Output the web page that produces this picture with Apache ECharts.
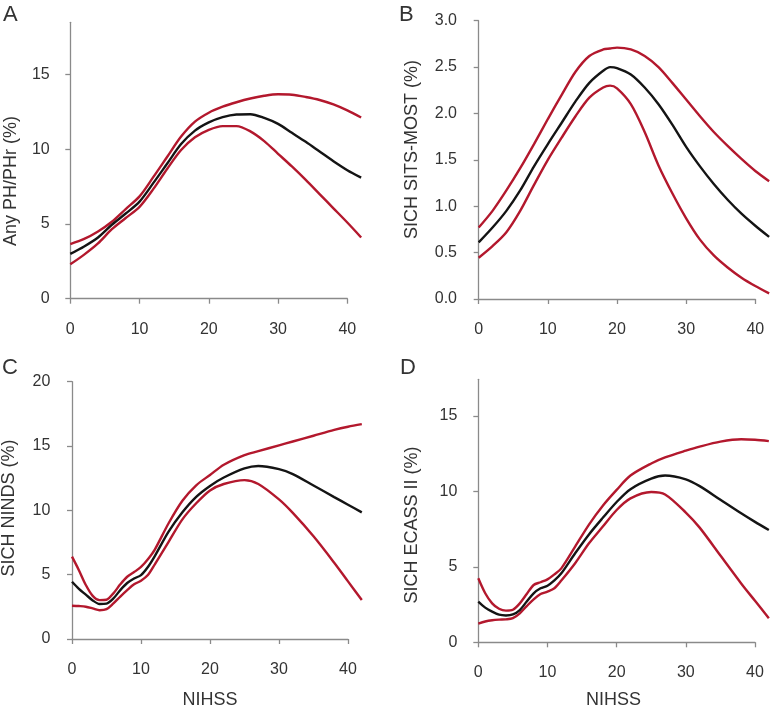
<!DOCTYPE html>
<html>
<head>
<meta charset="utf-8">
<script src="https://cdn.jsdelivr.net/npm/echarts@6.0.0/dist/echarts.min.js"></script>
<style>
html,body{margin:0;padding:0;background:#fff;}
#chart{width:772px;height:710px;}
</style>
</head>
<body>
<div id="chart"></div>
<script>
// ---------- Data ----------
const panelLetters = ['A', 'B', 'C', 'D'];
const yTitles = ['Any PH/PHr (%)', 'SICH SITS-MOST (%)', 'SICH NINDS (%)', 'SICH ECASS II (%)'];
const xTitle = 'NIHSS';
const xTicks = [0, 10, 20, 30, 40];

// Panel A: Any PH/PHr
const nihssA = [0,2,4,6,8,10,12,14,16,18,20,22,24,26,28,30,32,34,36,38,40,42];
const anyPH      = [3.0,3.5,4.1,4.95,5.7,6.5,7.75,9.05,10.35,11.25,11.8,12.15,12.33,12.35,12.1,11.7,11.1,10.5,9.85,9.2,8.6,8.1];
const anyPHUpper = [3.66,4.0,4.5,5.15,6.0,6.85,8.15,9.5,10.85,11.85,12.45,12.85,13.15,13.4,13.58,13.68,13.65,13.5,13.3,13.0,12.6,12.13];
const anyPHLower = [2.3,2.95,3.7,4.65,5.4,6.15,7.35,8.7,9.95,10.8,11.3,11.55,11.55,11.2,10.55,9.7,8.85,7.95,7.0,6.05,5.1,4.1];
const yTicksA = [0, 5, 10, 15];

// Panel B: SICH SITS-MOST
const nihssB = [0,2,4,6,8,10,12,14,16,18,19,20,22,24,26,28,30,32,34,36,38,40,42];
const sitsMost      = [0.61,0.77,0.95,1.17,1.43,1.67,1.9,2.13,2.33,2.46,2.5,2.49,2.42,2.28,2.1,1.88,1.64,1.43,1.24,1.07,0.92,0.79,0.67];
const sitsMostUpper = [0.77,0.95,1.17,1.41,1.67,1.94,2.2,2.45,2.62,2.69,2.7,2.71,2.69,2.62,2.5,2.33,2.15,1.97,1.8,1.65,1.51,1.38,1.27];
const sitsMostLower = [0.445,0.57,0.72,0.95,1.23,1.5,1.74,1.97,2.17,2.28,2.3,2.27,2.1,1.8,1.44,1.14,0.87,0.64,0.47,0.34,0.23,0.14,0.06];
const yTicksB = [0, 0.5, 1.0, 1.5, 2.0, 2.5, 3.0];

// Panel C: SICH NINDS
const nihssC = [0,1,2,3,4,5,6,7,8,9,10,11,12,14,16,18,20,22,25,27,30,32,35,38,40,42];
const ninds      = [4.45,3.9,3.45,3.0,2.72,2.75,3.15,3.8,4.35,4.7,4.97,5.6,6.45,8.35,9.85,11.05,11.9,12.55,13.26,13.45,13.2,12.82,11.93,11.03,10.44,9.84];
const nindsUpper = [6.4,5.35,4.2,3.35,3.02,3.05,3.55,4.25,4.84,5.2,5.6,6.2,6.95,9.0,10.75,11.95,12.75,13.55,14.3,14.6,15.05,15.35,15.8,16.25,16.5,16.7];
const nindsLower = [2.59,2.56,2.51,2.38,2.24,2.32,2.77,3.3,3.8,4.25,4.53,4.97,5.8,7.55,9.3,10.55,11.55,12.05,12.35,12.05,10.85,9.8,7.98,5.93,4.48,3.03];
const yTicksC = [0, 5, 10, 15, 20];

// Panel D: SICH ECASS II
const nihssD = [0,1,2,3,4,5,6,7,8,9,10,11,12,14,16,18,20,22,25,27,30,32,35,38,40,42];
const ecass      = [2.7,2.3,2.03,1.83,1.78,1.85,2.14,2.7,3.25,3.58,3.75,4.1,4.57,5.9,7.15,8.25,9.3,10.15,10.85,11.05,10.8,10.35,9.45,8.55,7.98,7.44];
const ecassUpper = [4.24,3.25,2.58,2.22,2.1,2.16,2.58,3.2,3.8,3.98,4.17,4.5,4.9,6.34,7.8,9.05,10.1,11.05,11.85,12.25,12.7,12.97,13.3,13.46,13.42,13.33];
const ecassLower = [1.24,1.38,1.46,1.5,1.52,1.6,1.92,2.4,2.85,3.2,3.36,3.58,4.09,5.24,6.56,7.67,8.77,9.54,9.96,9.8,8.6,7.6,5.75,3.9,2.75,1.6];
const yTicksD = [0, 5, 10, 15];

// ---------- Layout / style ----------
const RED = '#b3182d', BLACK = '#141414', AXIS = '#8a8a8a', TEXT = '#333333';
const FONT = '"Liberation Sans", Arial, Helvetica, sans-serif';
const X_DATA_MAX = 42, X_AXIS_MAX = 40;

const panels = [
  {x: nihssA, est: anyPH, up: anyPHUpper, lo: anyPHLower, ticks: yTicksA, max: 18.5,
   grid: {left: 70.3, top: 22.3, width: 277, height: 276.4}, yOff: 11.6, xOff: 12, dec: 0},
  {x: nihssB, est: sitsMost, up: sitsMostUpper, lo: sitsMostLower, ticks: yTicksB, max: 3.0,
   grid: {left: 478.7, top: 20.7, width: 276.6, height: 278.3}, yOff: 12.7, xOff: 11.7, dec: 1},
  {x: nihssC, est: ninds, up: nindsUpper, lo: nindsLower, ticks: yTicksC, max: 20,
   grid: {left: 72, top: 381.7, width: 276, height: 257.3}, yOff: 12.7, xOff: 11.7, dec: 0},
  {x: nihssD, est: ecass, up: ecassUpper, lo: ecassLower, ticks: yTicksD, max: 17.43,
   grid: {left: 478.3, top: 379.3, width: 276.7, height: 263}, yOff: 12, xOff: 11, dec: 0}
];

const grids = [], xAxes = [], yAxes = [], series = [];
const axisLineStyle = {color: AXIS, width: 1.3};
const labelStyle = {color: TEXT, fontSize: 16, fontFamily: FONT};

panels.forEach((p, i) => {
  const g = p.grid;
  // data grid (spans 0..42 on x), carries the visible y axis
  grids.push({outerBoundsMode: 'none', containLabel: false,
    left: g.left, top: g.top, height: g.height, width: g.width * X_DATA_MAX / X_AXIS_MAX});
  // axis grid (spans 0..40 on x), carries the visible x axis
  grids.push({outerBoundsMode: 'none', containLabel: false,
    left: g.left, top: g.top, height: g.height, width: g.width});

  xAxes.push({type: 'value', gridIndex: 2 * i, min: 0, max: X_DATA_MAX, show: false});
  xAxes.push({
    type: 'value', gridIndex: 2 * i + 1, min: 0, max: X_AXIS_MAX, interval: 10, offset: p.xOff,
    axisLine: {show: true, lineStyle: axisLineStyle},
    axisTick: {show: true, length: 5, lineStyle: axisLineStyle, customValues: xTicks},
    axisLabel: Object.assign({margin: 11, customValues: xTicks}, labelStyle),
    splitLine: {show: false}
  });
  yAxes.push({
    type: 'value', gridIndex: 2 * i, min: 0, max: p.max, offset: p.yOff,
    axisLine: {show: true, lineStyle: axisLineStyle},
    axisTick: {show: true, length: 5, lineStyle: axisLineStyle, customValues: p.ticks},
    axisLabel: Object.assign({margin: 9, customValues: p.ticks,
      formatter: v => Number(v).toFixed(p.dec)}, labelStyle),
    splitLine: {show: false}
  });
  yAxes.push({type: 'value', gridIndex: 2 * i + 1, min: 0, max: 1, show: false});

  const mk = (vals, color, name) => ({
    type: 'line', name: name, xAxisIndex: 2 * i, yAxisIndex: 2 * i,
    data: p.x.map((x, k) => [x, vals[k]]),
    showSymbol: false, symbol: 'none', smooth: 0.3, clip: false, silent: true,
    lineStyle: {color: color, width: 2.4}, z: color === BLACK ? 3 : 2
  });
  series.push(mk(p.up, RED, 'upper'), mk(p.lo, RED, 'lower'), mk(p.est, BLACK, 'estimate'));
});

const letterPos = [[3, 4], [399, 4], [2, 357], [400, 357]];
const yTitlePos = [[11, 181], [412, 149.5], [9.5, 508], [412, 525]];
const xTitlePos = [[210, 700], [613.5, 700]];

const graphics = [];
panelLetters.forEach((L, i) => graphics.push({
  type: 'text', left: letterPos[i][0], top: letterPos[i][1],
  style: {text: L, fill: TEXT, font: '22px ' + FONT}
}));
yTitles.forEach((t, i) => graphics.push({
  type: 'text', x: yTitlePos[i][0], y: yTitlePos[i][1], rotation: Math.PI / 2,
  style: {text: t, fill: TEXT, font: '18px ' + FONT, align: 'center', verticalAlign: 'middle'}
}));
xTitlePos.forEach(pos => graphics.push({
  type: 'text', x: pos[0], y: pos[1],
  style: {text: xTitle, fill: TEXT, font: '18px ' + FONT, align: 'center', verticalAlign: 'middle'}
}));

const chart = echarts.init(document.getElementById('chart'), null, {renderer: 'canvas'});
chart.setOption({
  backgroundColor: '#ffffff',
  animation: false,
  grid: grids, xAxis: xAxes, yAxis: yAxes, series: series,
  graphic: graphics
});
</script>
</body>
</html>
